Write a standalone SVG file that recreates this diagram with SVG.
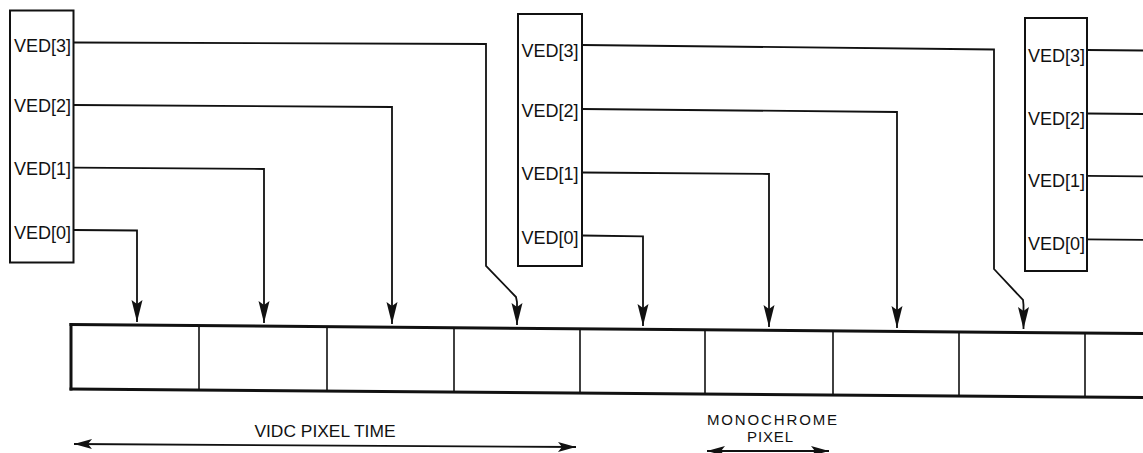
<svg xmlns="http://www.w3.org/2000/svg" width="1143" height="453" viewBox="0 0 1143 453">
<style>
.box{fill:#fff;stroke:#111;stroke-width:2}
.lbl{font-family:"Liberation Sans",Arial,sans-serif;font-size:18px;fill:#111}
.cap{font-family:"Liberation Sans",Arial,sans-serif;font-size:17.4px;fill:#111;text-anchor:middle}
.cap2{font-family:"Liberation Sans",Arial,sans-serif;font-size:15px;fill:#111;text-anchor:middle}
.wire{fill:none;stroke:#111;stroke-width:1.8}
.edge{fill:none;stroke:#111;stroke-width:3}
.div{fill:none;stroke:#111;stroke-width:1.6}
</style>
<defs>
<marker id="ah" markerUnits="userSpaceOnUse" markerWidth="24" markerHeight="14" viewBox="-23 -7 24 14" refX="0" refY="0" orient="auto">
<path d="M0,0 L-22,-5.5 L-18,0 L-22,5.5 Z" fill="#111"/>
</marker>
<marker id="ah2" markerUnits="userSpaceOnUse" markerWidth="20" markerHeight="14" viewBox="-19 -7 20 14" refX="0" refY="0" orient="auto-start-reverse">
<path d="M0,0 L-18,-5 L-14,0 L-18,5 Z" fill="#111"/>
</marker>
</defs>

<g id="connectors">
<polyline class="wire" points="74,42.5 486,44 486,266 516,297 517,302 517,325" marker-end="url(#ah)"/>
<polyline class="wire" points="74,105 392,107 392,324" marker-end="url(#ah)"/>
<polyline class="wire" points="74,167.7 264,169 264,323" marker-end="url(#ah)"/>
<polyline class="wire" points="74,230 137,230.5 137,322" marker-end="url(#ah)"/>
<polyline class="wire" points="582,45 994,49.5 994,269 1023,300 1023.5,305 1023.5,329" marker-end="url(#ah)"/>
<polyline class="wire" points="582,109 897,112 897,328" marker-end="url(#ah)"/>
<polyline class="wire" points="582,172.5 769,174 769,327" marker-end="url(#ah)"/>
<polyline class="wire" points="582,235.5 643,236.3 643,326" marker-end="url(#ah)"/>
<line class="wire" x1="1087" y1="50" x2="1143" y2="50.5"/>
<line class="wire" x1="1087" y1="113.5" x2="1143" y2="114"/>
<line class="wire" x1="1087" y1="175.8" x2="1143" y2="176.3"/>
<line class="wire" x1="1087" y1="239.3" x2="1143" y2="239.8"/>
<line class="wire" x1="74" y1="444" x2="576" y2="447" marker-start="url(#ah2)" marker-end="url(#ah2)"/>
<line class="wire" x1="707" y1="451" x2="829" y2="451" marker-start="url(#ah2)" marker-end="url(#ah2)"/>
</g>

<g id="box1">
<rect class="box" x="10" y="10.5" width="63.5" height="252"/>
<text class="lbl" x="14" y="52">VED[3]</text>
<text class="lbl" x="14" y="112">VED[2]</text>
<text class="lbl" x="14" y="175">VED[1]</text>
<text class="lbl" x="14" y="239">VED[0]</text>
</g>

<g id="box2">
<rect class="box" x="518" y="14" width="64" height="252"/>
<text class="lbl" x="521.5" y="57">VED[3]</text>
<text class="lbl" x="521.5" y="117">VED[2]</text>
<text class="lbl" x="521.5" y="180">VED[1]</text>
<text class="lbl" x="521.5" y="244">VED[0]</text>
</g>

<g id="box3">
<rect class="box" x="1025" y="18" width="62" height="253"/>
<text class="lbl" x="1028" y="62">VED[3]</text>
<text class="lbl" x="1028" y="125">VED[2]</text>
<text class="lbl" x="1028" y="187">VED[1]</text>
<text class="lbl" x="1028" y="250">VED[0]</text>
</g>

<g id="pixel-strip">
<line class="edge" x1="69.5" y1="324.5" x2="1143" y2="333.5"/>
<line class="edge" x1="69.5" y1="389" x2="1143" y2="397.5"/>
<line class="edge" x1="71" y1="323" x2="71" y2="390.5"/>
<line class="div" x1="199" y1="325.6" x2="199" y2="390"/>
<line class="div" x1="327" y1="326.7" x2="327" y2="391.1"/>
<line class="div" x1="454" y1="327.7" x2="454" y2="392.1"/>
<line class="div" x1="580" y1="328.8" x2="580" y2="393.2"/>
<line class="div" x1="705" y1="329.8" x2="705" y2="394.2"/>
<line class="div" x1="833" y1="330.9" x2="833" y2="395.2"/>
<line class="div" x1="959" y1="332" x2="959" y2="396.3"/>
<line class="div" x1="1085" y1="333" x2="1085" y2="397.3"/>
</g>

<g id="captions">
<text class="cap" x="325" y="437">VIDC PIXEL TIME</text>
<text class="cap2" x="772" y="424.5" textLength="130" lengthAdjust="spacing">MONOCHROME</text>
<text class="cap2" x="770" y="441.5" textLength="46" lengthAdjust="spacing">PIXEL</text>
</g>
</svg>
